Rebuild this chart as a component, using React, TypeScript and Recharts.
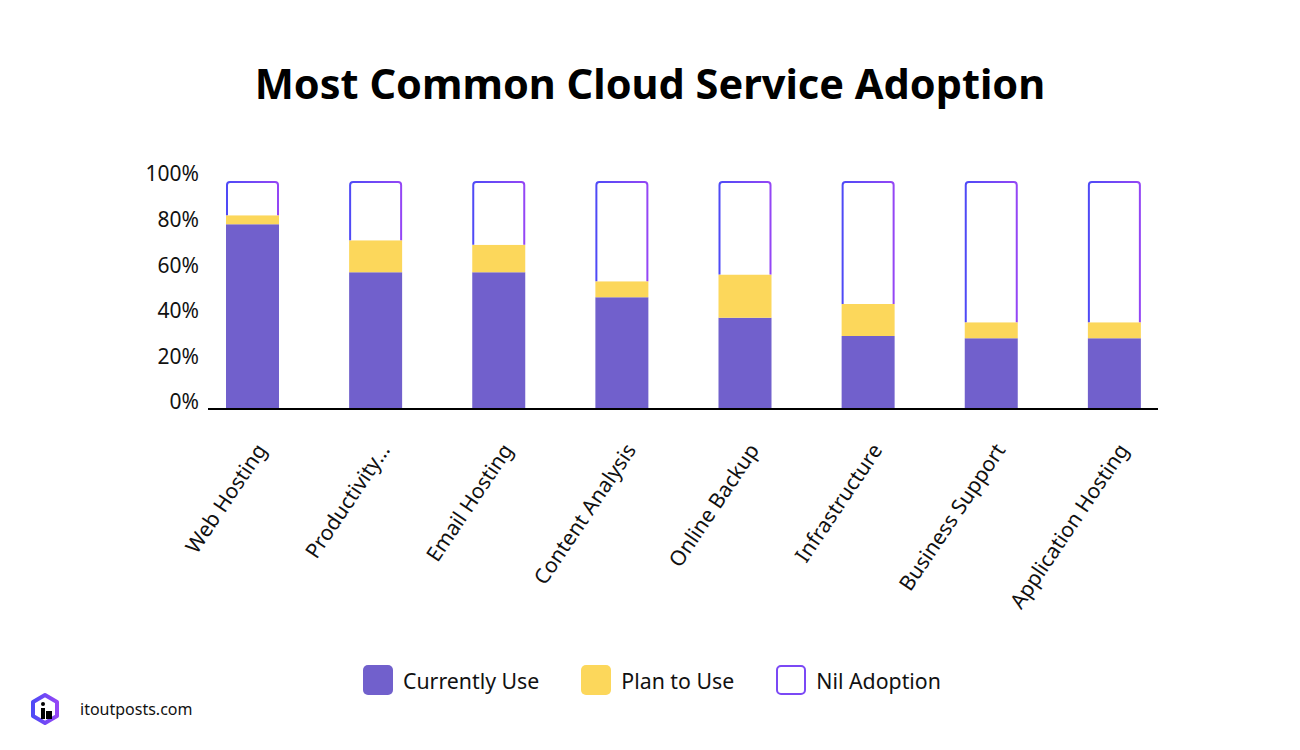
import { BarChart, Bar, XAxis, YAxis } from 'recharts'

const categories = [
  'Web Hosting',
  'Productivity…',
  'Email Hosting',
  'Content Analysis',
  'Online Backup',
  'Infrastructure',
  'Business Support',
  'Application Hosting',
]
const currentlyUse = [81, 60, 60, 49, 40, 32, 31, 31]
const planToUse = [4, 14, 12, 7, 19, 14, 7, 7]
const nilAdoption = [15, 26, 28, 44, 41, 54, 62, 62]
const yTicks = [0, 20, 40, 60, 80, 100]

const data = categories.map((name, i) => ({
  name,
  current: currentlyUse[i],
  plan: planToUse[i],
  nil: nilAdoption[i],
}))

const FONT = '"Noto Sans", sans-serif'
const PURPLE = '#7160CC'
const YELLOW = '#FCD75B'

// outline bar: top and sides only, rounded top corners
function NilShape(props: any) {
  const { x, y, width, height } = props
  const r = 4
  const d = `M${x + 1},${y + height} L${x + 1},${y + r} Q${x + 1},${y + 1} ${x + r},${y + 1} L${x + width - r},${y + 1} Q${x + width - 1},${y + 1} ${x + width - 1},${y + r} L${x + width - 1},${y + height}`
  return <path d={d} fill="#fff" stroke="url(#nilGrad)" strokeWidth={2} />
}

function XTick(props: any) {
  const { x, y, payload } = props
  return (
    <g transform={`translate(${x + 15},${y + 33})`}>
      <text
        transform="rotate(-56)"
        textAnchor="end"
        fontFamily={FONT}
        fontSize={21}
        fill="#111"
      >
        {payload.value}
      </text>
    </g>
  )
}

function LegendItem({ label, kind }: { label: string; kind: string }) {
  const box =
    kind === 'nil'
      ? { background: '#fff', border: '2px solid #7B48F5', boxSizing: 'border-box' as const }
      : { background: kind === 'current' ? PURPLE : YELLOW }
  return (
    <div style={{ display: 'flex', alignItems: 'center', marginRight: 42 }}>
      <div style={{ width: 30, height: 30, borderRadius: 5, marginRight: 10, ...box }} />
      <span style={{ fontSize: 21.3, color: '#111' }}>{label}</span>
    </div>
  )
}

export default function App() {
  return (
    <div
      style={{
        position: 'absolute',
        left: 0,
        top: 0,
        width: 1300,
        height: 750,
        background: '#fff',
        fontFamily: FONT,
      }}
    >
      <svg width={0} height={0} style={{ position: 'absolute' }}>
        <defs>
          <linearGradient id="nilGrad" x1="0" y1="0" x2="1" y2="0">
            <stop offset="0%" stopColor="#4F4AF6" />
            <stop offset="100%" stopColor="#9446F5" />
          </linearGradient>
        </defs>
      </svg>

      <div
        style={{
          position: 'absolute',
          top: 55,
          width: 1300,
          textAlign: 'center',
          fontSize: 41.5,
          fontWeight: 700,
          color: '#000',
        }}
      >
        Most Common Cloud Service Adoption
      </div>

      <BarChart
        width={1300}
        height={750}
        data={data}
        margin={{ top: 181, right: 124, bottom: 191, left: 131 }}
        barSize={53}
        style={{ position: 'absolute', left: 0, top: 0 }}
      >
        <XAxis
          dataKey="name"
          interval={0}
          height={150}
          tickLine={false}
          axisLine={false}
          tick={<XTick />}
        />
        <YAxis
          width={60}
          domain={[0, 100]}
          ticks={yTicks}
          tickFormatter={(v: number) => `${v}%`}
          tickLine={false}
          axisLine={false}
          tick={{ fontFamily: FONT, fontSize: 21, fill: '#111', dy: -7, dx: 18 }}
          tickMargin={4}
        />
        <Bar dataKey="current" stackId="a" fill={PURPLE} isAnimationActive={false} />
        <Bar dataKey="plan" stackId="a" fill={YELLOW} isAnimationActive={false} />
        <Bar dataKey="nil" stackId="a" shape={<NilShape />} isAnimationActive={false} />
      </BarChart>

      {/* baseline, drawn shorter than the plot area as in the original */}
      <div
        style={{
          position: 'absolute',
          left: 208,
          top: 408,
          width: 950,
          height: 2,
          background: '#000',
        }}
      />

      <div
        style={{
          position: 'absolute',
          top: 665,
          left: 363,
          display: 'flex',
        }}
      >
        <LegendItem label="Currently Use" kind="current" />
        <LegendItem label="Plan to Use" kind="plan" />
        <LegendItem label="Nil Adoption" kind="nil" />
      </div>

      <div style={{ position: 'absolute', left: 29, top: 692, display: 'flex', alignItems: 'center' }}>
        <svg width={32} height={34} viewBox="0 0 32 34">
          <defs>
            <linearGradient id="logoGrad" x1="0" y1="0" x2="1" y2="0">
              <stop offset="0%" stopColor="#4F4AF6" />
              <stop offset="100%" stopColor="#9446F5" />
            </linearGradient>
          </defs>
          <polygon
            points="16,3 28,10 28,24 16,31 4,24 4,10"
            fill="#fff"
            stroke="url(#logoGrad)"
            strokeWidth={4}
            strokeLinejoin="round"
          />
          <circle cx={14} cy={12} r={2} fill="#000" />
          <rect x={12} y={16} width={4} height={11} fill="#000" />
          <rect x={17} y={19} width={6} height={8} fill="#000" />
        </svg>
        <span style={{ marginLeft: 19, fontSize: 16, color: '#111' }}>itoutposts.com</span>
      </div>
    </div>
  )
}
